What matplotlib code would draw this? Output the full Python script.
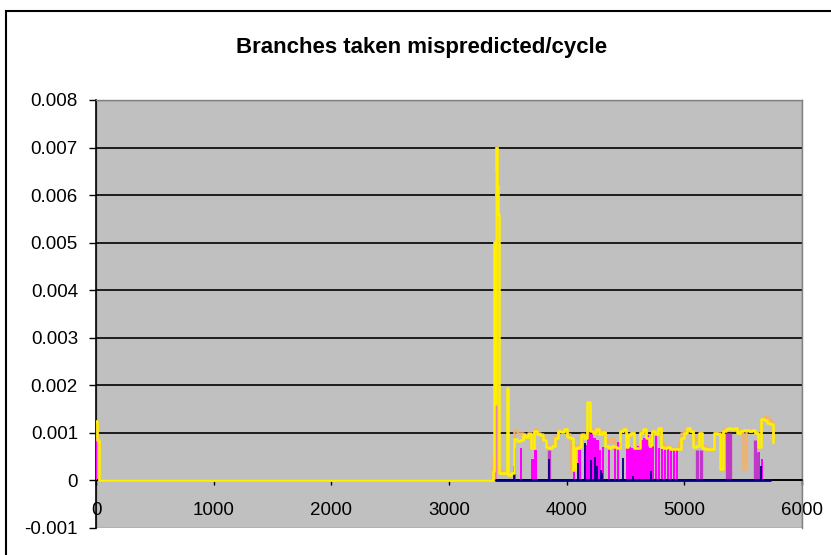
import numpy as np
import matplotlib
matplotlib.use("Agg")
import matplotlib.pyplot as plt
from matplotlib.patches import Rectangle
from matplotlib.ticker import FuncFormatter

plt.rcParams['font.family'] = ['Liberation Sans', 'DejaVu Sans']

# sample positions of the busy part (every 25 samples from 3525 to 5750)
grid_x = np.arange(3525, 5751, 25)

# yellow series: start blip + spike, then the busy part
yellow_lead_x = [0, 10, 22, 3375, 3383, 3394, 3401, 3407, 3411, 3415, 3422, 3490, 3500]
yellow_lead_y = [0.00125, 0.00085, 0, 0.00020, 0.00502, 0.00160, 0.00700, 0.00650,
                 0.00620, 0.00560, 0.00015, 0.00195, 0.00012]
yellow_vals = [
    0.00015, 0.00088, 0.00082, 0.00085, 0.00095, 0.00092, 0.00098, 0.00068, 0.00105, 0.00098,
    0.00095, 0.00085, 0.00070, 0.00068, 0.00072, 0.00090, 0.00105, 0.00102, 0.00108, 0.00092,
    0.00090, 0.00022, 0.00068, 0.00070, 0.00095, 0.00090, 0.00165, 0.00105, 0.00100, 0.00108,
    0.00098, 0.00102, 0.00072, 0.00068, 0.00072, 0.00070, 0.00068, 0.00105, 0.00108, 0.00070,
    0.00095, 0.00100, 0.00068, 0.00068, 0.00100, 0.00108, 0.00090, 0.00075, 0.00105, 0.00098,
    0.00110, 0.00070, 0.00068, 0.00070, 0.00066, 0.00066, 0.00066, 0.00066, 0.00090, 0.00100,
    0.00110, 0.00105, 0.00070, 0.00072, 0.00100, 0.00068, 0.00066, 0.00066, 0.00066, 0.00100,
    0.00098, 0.00025, 0.00105, 0.00108, 0.00110, 0.00108, 0.00110, 0.00100, 0.00105, 0.00106,
    0.00106, 0.00105, 0.00106, 0.00100, 0.00070, 0.00130, 0.00128, 0.00120, 0.00118, 0.00080,
]

# light orange series
orange_lead_x = [0, 10, 22, 3375, 3385, 3397, 3404, 3412, 3420, 3500]
orange_lead_y = [0.00120, 0.00080, 0, 0.00050, 0.00090, 0.00702, 0.00690, 0.00160, 0.00020, 0.00010]
orange_vals = [
    0.00015, 0.00107, 0.00100, 0.00100, 0.00098, 0.00092, 0.00100, 0.00070, 0.00108, 0.00100,
    0.00098, 0.00088, 0.00075, 0.00070, 0.00075, 0.00095, 0.00105, 0.00105, 0.00108, 0.00098,
    0.00020, 0.00030, 0.00072, 0.00075, 0.00098, 0.00095, 0.00110, 0.00108, 0.00102, 0.00108,
    0.00100, 0.00105, 0.00085, 0.00080, 0.00090, 0.00078, 0.00075, 0.00105, 0.00108, 0.00080,
    0.00098, 0.00102, 0.00075, 0.00072, 0.00102, 0.00108, 0.00095, 0.00090, 0.00105, 0.00100,
    0.00110, 0.00080, 0.00072, 0.00072, 0.00068, 0.00066, 0.00066, 0.00080, 0.00100, 0.00105,
    0.00110, 0.00105, 0.00090, 0.00085, 0.00100, 0.00075, 0.00068, 0.00066, 0.00066, 0.00100,
    0.00100, 0.00025, 0.00108, 0.00110, 0.00110, 0.00110, 0.00110, 0.00105, 0.00100, 0.00025,
    0.00106, 0.00105, 0.00106, 0.00100, 0.00090, 0.00130, 0.00135, 0.00130, 0.00125, 0.00080,
]

# magenta series (pulses)
magenta_lead_x = [0, 3394]
magenta_lead_y = [0.00090, 0.00160]
magenta_vals = [
    0, 0.00068, 0, 0.00068, 0, 0, 0, 0.00045, 0.00065, 0,
    0, 0, 0, 0.00050, 0, 0, 0, 0, 0, 0,
    0, 0.00022, 0, 0.00065, 0, 0.00075, 0.00100, 0.00098, 0.00090, 0.00085,
    0.00065, 0.00070, 0, 0.00068, 0, 0.00068, 0.00080, 0, 0, 0.00068,
    0.00070, 0.00068, 0.00070, 0.00072, 0.00085, 0.00090, 0.00095, 0.00068, 0.00100, 0.00098,
    0.00068, 0.00066, 0.00066, 0.00066, 0.00066, 0.00066, 0.00066, 0, 0, 0,
    0, 0, 0, 0, 0, 0, 0, 0, 0, 0,
    0, 0, 0, 0, 0, 0, 0, 0, 0, 0,
    0, 0, 0, 0, 0.00060, 0.00045, 0, 0, 0, 0,
]

# violet pulses
violet_x = [3850, 5105, 5145, 5360, 5392, 5600, 5618]
violet_y = [0.00063, 0.00065, 0.00065, 0.00100, 0.00100, 0.00085, 0.00060]

# pink pulse in the spike
pink_x = [3399]
pink_y = [0.00650]

# navy series: flat at zero with a few pulses
navy_start, navy_end = 3390, 5740
navy_x = [3555, 3850, 4100, 4160, 4205, 4240, 4262, 4290, 4300, 4480, 4560, 4720, 5650]
navy_y = [0.00030, 0.00045, 0.00037, 0.00078, 0.00044, 0.00050, 0.00030, 0.00022,
          0.00015, 0.00047, 0.00010, 0.00020, 0.00030]

yticks = np.arange(-0.001, 0.0081, 0.001)
xticks = [0, 1000, 2000, 3000, 4000, 5000, 6000]

fig = plt.figure(figsize=(8.31, 5.55), dpi=100)
ax = fig.add_axes([96 / 831, 27 / 555, 706 / 831, 428 / 555])
ax.set_facecolor('#C0C0C0')

ax.step(np.concatenate([orange_lead_x, grid_x]), np.concatenate([orange_lead_y, orange_vals]),
        where='post', color='#F2B26C', lw=1.8, zorder=3)
ax.bar(magenta_lead_x, magenta_lead_y, width=10, align='edge', color='#FF00FF', zorder=3.1)
ax.bar(grid_x, magenta_vals, width=21, align='edge', color='#FF00FF', zorder=3.1)
ax.vlines(violet_x, 0, violet_y, color='#C038C8', lw=2.4, zorder=3.2)
ax.vlines(pink_x, 0, pink_y, color='#E882B8', lw=1.5, zorder=3.2)
ax.hlines(0, navy_start, navy_end, color='#000080', lw=2, zorder=3.3)
ax.vlines(navy_x, 0, navy_y, color='#000080', lw=1.3, zorder=3.3)
ax.step(np.concatenate([yellow_lead_x, grid_x]), np.concatenate([yellow_lead_y, yellow_vals]),
        where='post', color='#FFF000', lw=1.8, zorder=3.4)

ax.set_xlim(0, 6000)
ax.set_ylim(-0.001, 0.008)
ax.set_yticks(yticks)
ax.set_xticks(xticks)
ax.yaxis.set_major_formatter(FuncFormatter(lambda v, p: '%g' % round(v, 6)))
ax.xaxis.set_major_formatter(FuncFormatter(lambda v, p: '%d' % v))

ax.yaxis.grid(True, color='black', lw=1.2)
gl = ax.get_ygridlines()
gl[0].set_visible(False)
gl[-1].set_visible(False)
ax.set_axisbelow(True)

ax.spines['bottom'].set_position(('data', 0))
ax.spines['bottom'].set_color('black')
ax.spines['bottom'].set_linewidth(1.2)
ax.spines['left'].set_color('black')
ax.spines['left'].set_linewidth(1.2)
for s in ['top', 'right']:
    ax.spines[s].set_color('#808080')
    ax.spines[s].set_linewidth(1.0)
# gray border at the bottom of the plot area
ax.add_patch(Rectangle((0, 0), 1, 1, transform=ax.transAxes, fill=False,
                       edgecolor='#808080', lw=1.0, zorder=0.5))

ax.tick_params(axis='y', direction='out', length=5, width=1, pad=8, labelsize=13.5)
ax.tick_params(axis='x', direction='out', length=3.5, width=1, pad=12, labelsize=13.5)

fig.text(422 / 831, 1 - 47 / 555, 'Branches taken mispredicted/cycle',
         ha='center', va='center', fontsize=16, fontweight='bold')

# outer chart border (cut off at right and bottom)
fig.patches.append(Rectangle((5.5 / 831, -0.05), 1.2, (555 - 10.5) / 555 + 0.05,
                             transform=fig.transFigure, fill=False,
                             edgecolor='black', lw=1.5))

fig.savefig('out.png', dpi=100)
